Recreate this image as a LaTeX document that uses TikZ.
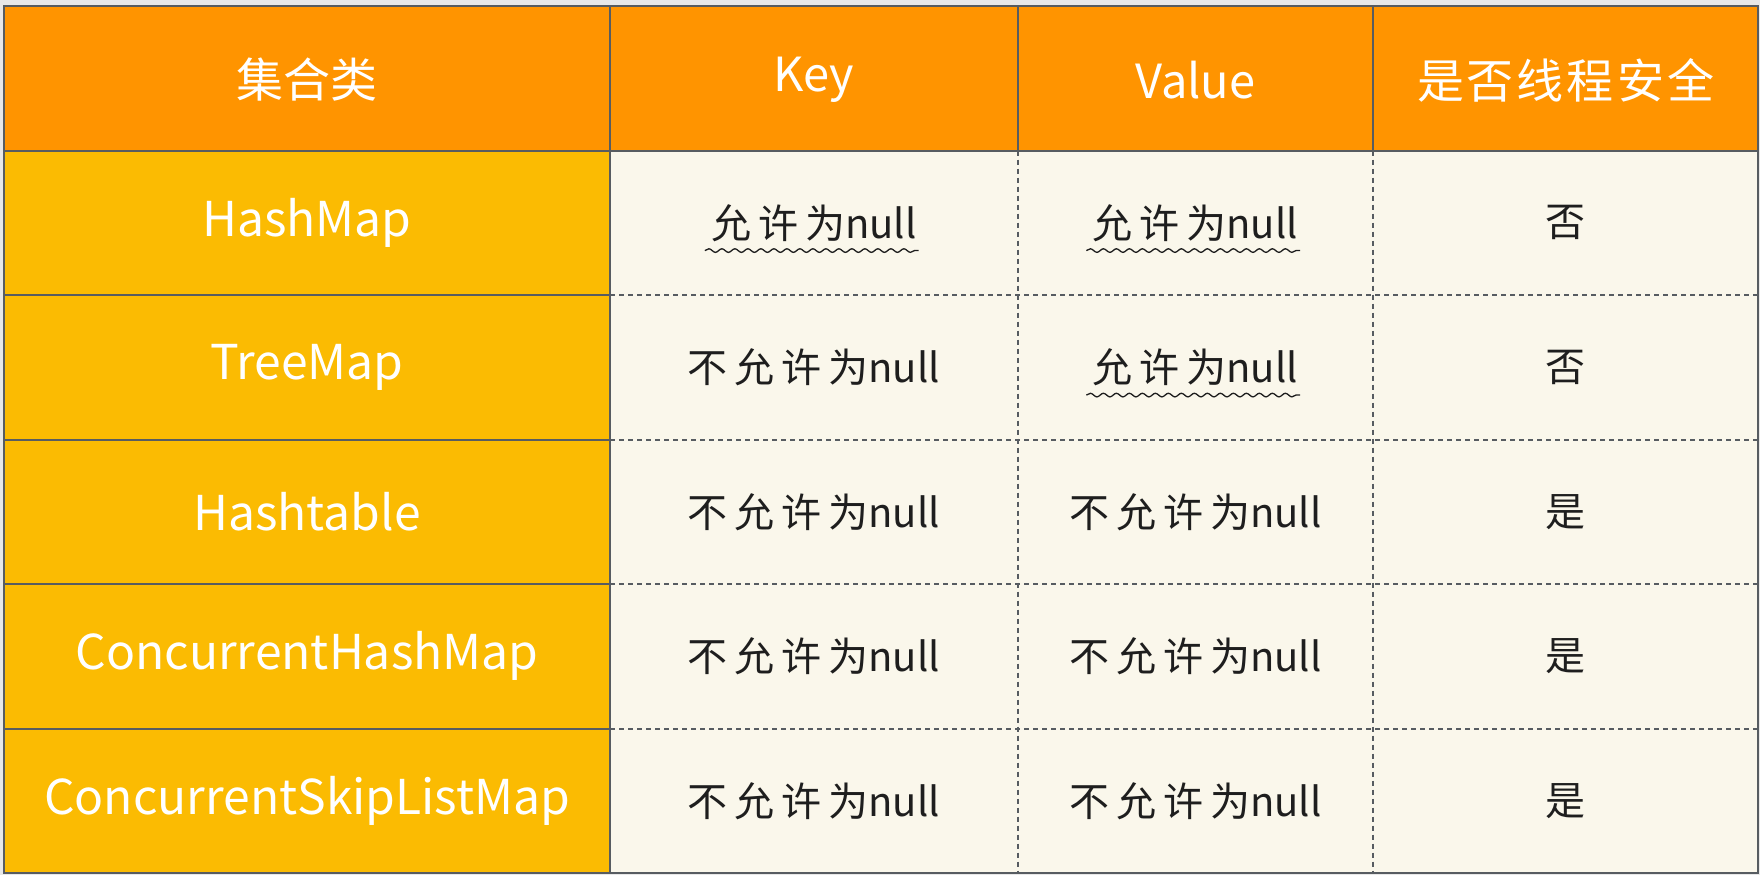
\documentclass[tikz,border=0pt]{standalone}
\usepackage{fontspec}
\setmainfont{Noto Sans CJK SC}
\usetikzlibrary{decorations.pathmorphing}
\definecolor{headorange}{HTML}{FF9400}
\definecolor{namegold}{HTML}{FBBB02}
\definecolor{cellcream}{HTML}{FAF7EB}
\definecolor{gridgray}{HTML}{575C61}
\definecolor{inkblack}{HTML}{1E1E1E}
\newcommand\headfont{\fontsize{47}{52}\selectfont}
\newcommand\namefont{\fontsize{48}{54}\selectfont}
\newcommand\cellfont{\fontsize{40}{46}\selectfont}
\newcommand\cjkgap{\hspace{7pt}}
\newcommand\headgap{\hspace{3pt}}

\begin{document}
\begin{tikzpicture}[x=1pt,y=-1pt,
  gridline/.style={draw=gridgray,line width=2pt},
  griddash/.style={draw=gridgray,line width=2pt,dash pattern=on 5pt off 4pt},
  headtext/.style={inner sep=0pt,text=white,font=\headfont},
  nametext/.style={inner sep=0pt,text=white,font=\namefont},
  celltext/.style={inner sep=0pt,text=inkblack,font=\cellfont},
  wavy/.style={draw=inkblack,line width=1.3pt,decorate,
    decoration={snake,amplitude=1.8pt,segment length=13pt}}]
\useasboundingbox (0,0) rectangle (1760,875);
\fill[gray!18] (0,0) rectangle (1760,875);

% cell backgrounds
\fill[headorange] (4,6.5) rectangle (1758,150.5);
\fill[namegold] (4,150.5) rectangle (610,873);
\fill[cellcream] (610,150.5) rectangle (1758,873);

% header
\node[headtext] (h1) at (307,80) {集合类};
\node[headtext] (h2) at (813.75,80) {Key};
\node[headtext] (h3) at (1195.25,80) {Value};
\node[headtext] (h4) at (1565.5,80) {是\headgap 否\headgap 线\headgap 程\headgap 安\headgap 全};

% rows
\foreach \name/\keytxt/\valtxt/\safe/\kwave/\vwave [count=\i] in
  {HashMap/允\cjkgap 许\cjkgap 为null/允\cjkgap 许\cjkgap 为null/否/1/1,
   TreeMap/不\cjkgap 允\cjkgap 许\cjkgap 为null/允\cjkgap 许\cjkgap 为null/否/0/1,
   Hashtable/不\cjkgap 允\cjkgap 许\cjkgap 为null/不\cjkgap 允\cjkgap 许\cjkgap 为null/是/0/0,
   ConcurrentHashMap/不\cjkgap 允\cjkgap 许\cjkgap 为null/不\cjkgap 允\cjkgap 许\cjkgap 为null/是/0/0,
   ConcurrentSkipListMap/不\cjkgap 允\cjkgap 许\cjkgap 为null/不\cjkgap 允\cjkgap 许\cjkgap 为null/是/0/0}
{
  \pgfmathsetmacro\cy{150.5+144.5*(\i-0.5)}
  \node[nametext] (n\i) at (307,\cy) {\name};
  \node[celltext] (k\i) at (813.75,\cy) {\keytxt};
  \node[celltext] (v\i) at (1195.25,\cy) {\valtxt};
  \node[celltext] (s\i) at (1565.5,\cy) {\safe};
  \ifnum\kwave=1
    \draw[wavy] ([xshift=-6pt,yshift=-9pt]k\i.south west) -- ([xshift=2pt,yshift=-9pt]k\i.south east);
  \fi
  \ifnum\vwave=1
    \draw[wavy] ([xshift=-6pt,yshift=-9pt]v\i.south west) -- ([xshift=2pt,yshift=-9pt]v\i.south east);
  \fi
}

% grid
\foreach \y in {295,439.5,584,728.5}
{
  \draw[gridline] (4,\y)--(610,\y);
  \draw[griddash] (610,\y)--(1758,\y);
}
\draw[griddash] (1017.5,150.5)--(1017.5,873);
\draw[griddash] (1373,150.5)--(1373,873);
\draw[gridline] (1017.5,6.5)--(1017.5,150.5);
\draw[gridline] (1373,6.5)--(1373,150.5);
\draw[gridline] (610,6.5)--(610,873);
\draw[gridline] (4,150.5)--(1758,150.5);
\draw[gridline] (4,6.5) rectangle (1758,873);
\end{tikzpicture}
\end{document}
